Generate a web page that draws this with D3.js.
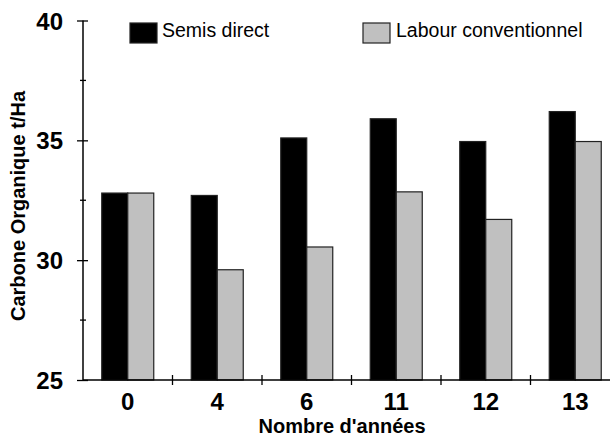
<!DOCTYPE html>
<html>
<head>
<meta charset="utf-8">
<script src="https://cdn.jsdelivr.net/npm/d3@7"></script>
<style>
  body { margin: 0; background: #fff; }
  svg { display: block; font-family: "Liberation Sans", Arial, sans-serif; }
  .bold { font-weight: 700; }
</style>
</head>
<body>
<svg id="chart" width="615" height="436"></svg>
<script>
const categories = ["0", "4", "6", "11", "12", "13"];
const semisDirect = [32.8, 32.7, 35.1, 35.9, 34.95, 36.2];
const labourConventionnel = [32.8, 29.6, 30.55, 32.85, 31.7, 34.95];
const seriesNames = ["Semis direct", "Labour conventionnel"];
const seriesColors = ["#000000", "#c0c0c0"];
const yTicks = [25, 30, 35, 40];
const yMinorTicks = [27.5, 32.5, 37.5];

(function () {
const svg = d3.select("#chart");
const mLeft = 83, mTop = 20.5, mBottom = 380, bandW = 89.5;

const x = d3.scaleBand().domain(categories)
  .range([mLeft, mLeft + bandW * categories.length]).paddingInner(0).paddingOuter(0);
const y = d3.scaleLinear().domain([25, 40]).range([mBottom, mTop]);
const xs = d3.scaleBand().domain(seriesNames).range([0, 52]);

const data = categories.map((c, i) => ({ cat: c, vals: [semisDirect[i], labourConventionnel[i]] }));

// bars
const g = svg.append("g");
data.forEach(d => {
  const cx = x(d.cat) + x.bandwidth() / 2 - 26;
  d.vals.forEach((v, j) => {
    g.append("rect")
      .attr("x", cx + xs(seriesNames[j]))
      .attr("y", y(v))
      .attr("width", xs.bandwidth())
      .attr("height", y(25) - y(v))
      .attr("fill", seriesColors[j])
      .attr("stroke", "#222")
      .attr("stroke-width", 1.2);
  });
});

// y axis
const yAxis = d3.axisLeft(y).tickValues(yTicks).tickSize(6).tickFormat("");
const ya = svg.append("g").attr("transform", `translate(${mLeft},0)`).call(yAxis);
ya.select(".domain").remove();
ya.selectAll(".tick line").attr("x1", 5).attr("x2", -6).attr("stroke", "#000").attr("stroke-width", 1.3);
svg.selectAll(".ylab").data(yTicks).enter().append("text")
  .attr("class", "bold")
  .attr("x", mLeft - 20).attr("y", d => y(d) + 9)
  .attr("text-anchor", "end")
  .attr("font-size", 24).text(d => d3.format("d")(d));
svg.append("line").attr("x1", mLeft).attr("x2", mLeft).attr("y1", y(40)).attr("y2", y(25))
  .attr("stroke", "#000").attr("stroke-width", 1.5);
svg.selectAll(".minor").data(yMinorTicks).enter().append("line")
  .attr("x1", mLeft - 3).attr("x2", mLeft + 3)
  .attr("y1", d => y(d)).attr("y2", d => y(d))
  .attr("stroke", "#000").attr("stroke-width", 1.3);

// x axis
svg.append("line").attr("x1", mLeft).attr("x2", 610).attr("y1", mBottom).attr("y2", mBottom)
  .attr("stroke", "#000").attr("stroke-width", 1.3);
svg.selectAll(".xt").data(categories.slice(1)).enter().append("line")
  .attr("x1", d => x(d)).attr("x2", d => x(d))
  .attr("y1", mBottom - 5).attr("y2", mBottom + 5)
  .attr("stroke", "#000").attr("stroke-width", 1.3);
svg.selectAll(".xl").data(categories).enter().append("text")
  .attr("class", "bold")
  .attr("x", d => x(d) + x.bandwidth() / 2).attr("y", 410)
  .attr("text-anchor", "middle")
  .attr("font-size", 24).text(d => d);

// axis titles
svg.append("text").attr("class", "bold").attr("x", 342).attr("y", 433).attr("text-anchor", "middle")
  .attr("font-size", 20).text("Nombre d'années");
svg.append("text").attr("class", "bold").attr("transform", "translate(25,206) rotate(-90)").attr("text-anchor", "middle")
  .attr("font-size", 20).text("Carbone Organique t/Ha");

// legend
const legX = [130, 363], legTextX = [162, 396];
seriesNames.forEach((s, j) => {
  svg.append("rect").attr("x", legX[j]).attr("y", 23).attr("width", 27).attr("height", 20)
    .attr("fill", seriesColors[j]).attr("stroke", "#222").attr("stroke-width", 1.2);
  svg.append("text").attr("x", legTextX[j]).attr("y", 37)
    .attr("font-size", 19.5).text(s);
});
})();
</script>
</body>
</html>
